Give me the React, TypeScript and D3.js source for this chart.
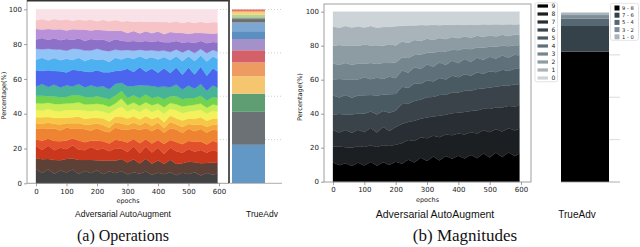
import React, { useEffect, useRef } from 'react';
import * as d3 from 'd3';

// sampled epochs
const epochs = [0, 20, 40, 60, 80, 100, 120, 140, 160, 180, 200, 220, 240, 260, 280, 300,
  320, 340, 360, 380, 400, 420, 440, 460, 480, 500, 520, 540, 560, 580, 595];

const pctTicks = [0, 20, 40, 60, 80, 100];
const epochTicks = [0, 100, 200, 300, 400, 500, 600];
const gridLevels = [25, 50, 75, 100];

// (a) operations, bottom to top
const opColors = ['#424242', '#5e4136', '#c9381c', '#e2502c', '#ee8332', '#f4a63c', '#f8c646',
  '#f4f25c', '#c9ee55', '#72d44e', '#47b497', '#4b65ef', '#4cb0f1', '#93c4f7', '#8d70c7',
  '#b891d8', '#f6c3c7', '#f9e2e7'];

const opDarkGray = [8.2, 6.0, 7.9, 5.6, 7.4, 6.3, 8.0, 5.5, 7.1, 5.9, 7.6, 5.2, 6.8, 6.0, 7.3, 4.9, 6.5, 5.3, 6.9, 4.8, 6.2, 5.0, 6.4, 4.6, 5.9, 5.1, 6.3, 4.5, 5.8, 4.9, 5.6];
const opBrown = [6.2, 8.1, 6.0, 8.0, 5.9, 7.8, 6.4, 8.2, 6.3, 7.7, 5.8, 7.9, 6.1, 7.5, 7.0, 6.6, 7.6, 5.7, 7.4, 6.0, 7.2, 5.6, 7.1, 6.4, 5.5, 6.9, 5.7, 7.0, 5.6, 6.8, 6.0];
const opRed = [7.0, 5.4, 7.6, 5.7, 7.3, 5.5, 7.8, 6.0, 5.6, 7.5, 6.1, 7.2, 5.3, 7.4, 6.2, 5.8, 7.7, 5.6, 7.1, 6.3, 7.5, 5.5, 6.9, 7.4, 5.9, 7.2, 6.0, 7.6, 5.8, 7.1, 6.4];
const opOrangeRed = [3.8, 5.3, 4.0, 5.5, 3.7, 5.1, 3.9, 5.4, 4.6, 3.6, 5.2, 4.1, 4.4, 5.0, 4.6, 5.2, 4.3, 5.5, 4.2, 5.0, 4.6, 5.4, 4.5, 5.3, 4.8, 4.5, 5.6, 4.9, 4.6, 5.3, 5.2];
const opOrange = [6.0, 7.4, 5.7, 7.2, 6.2, 7.6, 5.5, 7.0, 7.5, 5.8, 7.3, 6.0, 6.3, 7.2, 6.6, 7.0, 6.1, 7.4, 6.5, 6.8, 7.1, 6.2, 6.7, 7.2, 6.4, 6.9, 6.0, 7.1, 6.6, 6.3, 6.8];
const opLightOrange = [3.3, 2.5, 3.6, 2.7, 3.5, 2.4, 3.4, 3.0, 2.6, 3.7, 2.8, 3.5, 2.5, 3.3, 3.6, 2.7, 3.4, 2.6, 3.5, 2.8, 3.2, 2.5, 3.6, 2.9, 3.3, 2.6, 3.5, 2.8, 3.4, 2.7, 3.1];
const opAmber = [3.4, 3.9, 3.1, 3.6, 3.8, 3.2, 3.5, 4.0, 3.3, 3.7, 3.2, 3.9, 3.6, 3.3, 4.0, 3.5, 3.8, 3.2, 3.6, 3.9, 3.4, 3.3, 3.8, 3.5, 3.7, 3.1, 3.6, 3.9, 3.4, 3.5, 3.6];
const opYellow = [4.3, 3.8, 4.6, 4.1, 3.7, 4.5, 4.2, 3.9, 4.7, 4.0, 4.4, 3.8, 4.5, 4.1, 5.8, 3.9, 4.3, 4.0, 4.6, 3.7, 4.2, 4.4, 3.9, 4.5, 4.1, 3.8, 4.4, 4.2, 3.9, 4.3, 4.1];
const opLime = [3.8, 4.2, 3.6, 4.0, 4.3, 3.7, 3.9, 4.4, 3.6, 4.1, 3.8, 4.2, 3.9, 3.7, 4.9, 3.5, 3.8, 3.6, 3.4, 3.9, 3.5, 3.7, 3.3, 3.6, 3.8, 3.4, 3.5, 3.7, 3.3, 3.6, 3.5];
const opGreen = [4.2, 4.5, 3.8, 4.4, 4.0, 3.7, 4.6, 4.1, 4.3, 3.8, 4.5, 4.0, 4.2, 4.7, 4.4, 3.9, 4.3, 4.1, 4.6, 3.9, 4.2, 4.4, 3.8, 4.5, 4.1, 4.3, 3.9, 4.4, 4.0, 4.2, 4.3];
const opTeal = [5.4, 6.9, 5.2, 7.0, 5.6, 6.8, 5.1, 6.6, 5.5, 7.1, 5.3, 6.7, 5.7, 6.9, 4.8, 6.6, 5.4, 7.2, 5.2, 6.8, 5.6, 7.0, 5.3, 6.7, 5.5, 6.9, 5.2, 6.8, 5.6, 6.6, 5.9];
const opBlue = [9.3, 7.6, 9.6, 7.9, 9.4, 7.4, 9.8, 8.0, 9.2, 7.7, 9.7, 8.1, 9.5, 7.8, 7.2, 9.6, 8.2, 9.9, 8.0, 9.7, 8.3, 10.0, 8.1, 9.8, 8.4, 10.1, 8.2, 9.9, 8.5, 9.7, 9.0];
const opSkyBlue = [6.1, 7.8, 5.8, 7.6, 6.3, 7.9, 5.7, 7.4, 6.0, 7.7, 6.2, 7.5, 5.9, 7.8, 6.6, 6.4, 7.7, 6.1, 7.6, 6.3, 7.9, 6.2, 7.5, 6.5, 7.8, 6.3, 7.6, 6.4, 7.9, 6.6, 7.2];
const opPaleBlue = [6.3, 4.9, 6.5, 5.0, 6.2, 4.7, 6.6, 5.1, 6.0, 4.8, 6.4, 5.2, 6.1, 4.9, 5.3, 4.0, 4.8, 3.6, 4.7, 3.8, 4.9, 3.5, 4.6, 3.9, 4.8, 3.6, 4.5, 3.8, 4.7, 3.7, 4.2];
const opPurple = [5.2, 6.6, 5.0, 6.5, 5.4, 6.8, 5.1, 6.3, 5.5, 6.7, 5.0, 6.4, 5.3, 6.2, 5.7, 4.6, 5.8, 4.4, 5.6, 4.7, 5.9, 4.5, 5.7, 4.8, 5.5, 4.4, 5.8, 4.6, 5.6, 4.5, 5.2];
const opLightPurple = [6.1, 5.0, 6.3, 5.2, 6.4, 4.9, 6.2, 5.1, 6.5, 5.0, 6.0, 5.3, 6.3, 5.1, 5.9, 4.7, 5.8, 4.6, 5.7, 4.8, 5.6, 4.5, 5.8, 4.7, 5.5, 4.6, 5.7, 4.5, 5.6, 4.7, 5.2];
const opPink = [5.0, 6.2, 4.8, 6.1, 5.1, 6.4, 4.9, 6.0, 5.2, 6.3, 5.0, 6.1, 5.3, 6.4, 5.4, 6.6, 5.5, 6.7, 5.4, 6.5, 5.6, 6.8, 5.5, 6.6, 5.7, 6.7, 5.6, 6.5, 5.8, 6.6, 6.1];
const opPalePink = [6.3, 5.6, 6.5, 5.7, 6.4, 5.8, 6.7, 5.9, 6.5, 6.0, 6.9, 6.1, 6.8, 6.3, 7.2, 6.5, 7.3, 6.6, 7.4, 6.7, 7.5, 6.8, 7.6, 6.9, 7.7, 7.0, 7.8, 7.1, 7.7, 7.2, 7.5];

const opSeries = [opDarkGray, opBrown, opRed, opOrangeRed, opOrange, opLightOrange, opAmber,
  opYellow, opLime, opGreen, opTeal, opBlue, opSkyBlue, opPaleBlue, opPurple, opLightPurple,
  opPink, opPalePink];

// TrueAdv operations bar, bottom to top
const trueOpValues = [22, 19, 10.5, 10, 8, 7, 6.5, 4.5, 5, 2, 1, 1.5, 1.5, 0.7, 0.8];
const trueOpColors = ['#6198c6', '#6c7176', '#5e9e72', '#f5c66e', '#ee9b61', '#d4606a', '#a491c9',
  '#5b8fc0', '#7ba7d2', '#6e6e6e', '#8ba59a', '#b7d48b', '#f4d27a', '#f2a86e', '#e06868'];

// (b) magnitudes, bottom (9) to top (0)
const magLabels = ['9', '8', '7', '6', '5', '4', '3', '2', '1', '0'];
const magColors = ['#000000', '#1b1f22', '#282e33', '#394349', '#4a5a63', '#5f707a', '#75868f',
  '#8d9ba3', '#a9b4ba', '#ccd4d7'];

const mag9 = [11.4, 9.6, 10.9, 9.2, 11.2, 9.8, 11.6, 9.5, 11.3, 10.1, 11.8, 11.0, 12.6, 11.7, 13.9, 12.6, 14.5, 12.9, 14.8, 13.8, 14.9, 14.0, 15.3, 14.2, 16.3, 14.6, 16.8, 15.0, 17.0, 15.4, 16.6];
const mag8 = [9.2, 11.1, 9.5, 10.6, 9.8, 11.3, 9.9, 11.2, 10.0, 11.4, 10.1, 12.6, 11.5, 13.0, 11.9, 13.8, 12.0, 14.0, 12.4, 14.3, 12.8, 14.7, 13.1, 15.0, 13.4, 15.3, 13.6, 15.5, 14.0, 15.6, 14.8];
const mag7 = [9.8, 8.2, 10.1, 8.7, 9.9, 8.9, 10.3, 8.6, 10.6, 9.0, 10.4, 11.9, 10.3, 12.3, 10.8, 12.6, 11.2, 13.0, 11.4, 13.3, 11.9, 13.6, 12.1, 13.8, 12.4, 14.1, 12.7, 14.5, 13.0, 14.6, 13.8];
const mag6 = [9.4, 10.9, 9.2, 10.8, 9.6, 11.1, 9.5, 10.7, 9.3, 11.0, 9.7, 12.2, 10.6, 12.1, 11.2, 12.3, 11.3, 12.6, 11.5, 12.5, 11.7, 12.9, 11.6, 13.1, 11.6, 13.0, 12.0, 13.2, 11.9, 13.3, 12.5];
const mag5 = [11.2, 9.7, 11.5, 9.8, 10.6, 11.3, 9.7, 11.4, 9.6, 11.1, 9.8, 10.6, 9.0, 10.7, 9.1, 10.4, 8.9, 10.3, 8.8, 10.1, 8.7, 10.0, 8.6, 9.9, 8.5, 9.8, 8.4, 9.7, 8.4, 9.6, 9.0];
const mag4 = [9.4, 10.8, 9.2, 10.7, 9.5, 10.9, 9.3, 10.6, 9.1, 10.5, 9.3, 10.1, 8.8, 9.7, 8.7, 9.5, 8.5, 9.3, 8.3, 9.1, 8.1, 9.2, 8.0, 8.9, 7.9, 8.8, 7.8, 8.6, 7.7, 8.5, 8.1];
const mag3 = [9.5, 8.3, 9.7, 8.4, 9.6, 8.2, 9.5, 8.1, 9.4, 8.3, 9.3, 7.9, 8.6, 7.5, 8.3, 7.1, 8.1, 6.8, 7.8, 6.6, 7.5, 6.4, 7.3, 6.2, 7.1, 6.0, 6.9, 5.9, 6.7, 5.8, 6.0];
const mag2 = [10.3, 11.7, 10.1, 11.5, 10.4, 11.6, 10.3, 11.2, 10.0, 11.3, 10.1, 9.9, 8.7, 9.1, 8.0, 8.5, 7.5, 8.1, 7.1, 7.7, 6.8, 7.4, 6.5, 7.1, 6.2, 6.9, 6.0, 6.7, 5.8, 6.4, 6.0];
const mag1 = [11.5, 10.2, 11.8, 10.4, 11.6, 10.3, 11.5, 10.5, 11.0, 10.4, 11.4, 9.6, 10.1, 8.8, 9.3, 8.2, 8.7, 7.7, 8.3, 7.2, 7.9, 6.9, 7.6, 6.7, 7.3, 6.5, 7.1, 6.3, 6.9, 6.2, 6.4];
const mag0 = [8.8, 9.4, 8.5, 9.3, 8.7, 9.6, 8.4, 9.5, 8.9, 9.2, 8.6, 8.7, 7.9, 8.4, 7.7, 8.3, 7.6, 8.2, 7.5, 8.1, 7.4, 8.0, 7.4, 7.9, 7.3, 7.8, 7.3, 7.7, 7.3, 7.7, 7.5];

const magSeries = [mag9, mag8, mag7, mag6, mag5, mag4, mag3, mag2, mag1, mag0];

// TrueAdv magnitudes bar, bottom to top
const trueMagLabels = ['9 - 8', '7 - 6', '5 - 4', '3 - 2', '1 - 0'];
const trueMagValues = [77, 15.5, 4, 2, 1.5];
const trueMagColors = ['#000000', '#36424a', '#566874', '#7e8e98', '#a9b5bc'];

const tickFont = 'DejaVu Sans, sans-serif';
const titleFont = 'Liberation Sans, Arial, sans-serif';
const captionFont = 'Liberation Serif, Times New Roman, serif';

const stackOf = (series: number[][]) => {
  const keys = series.map((_, k) => 'k' + k);
  const rows = epochs.map((e, i) => {
    const r: any = { epoch: e };
    series.forEach((s, k) => { r['k' + k] = s[i]; });
    return r;
  });
  return d3.stack().keys(keys).offset(d3.stackOffsetExpand)(rows);
};

const barStackOf = (values: number[]) => {
  const keys = values.map((_, k) => 'k' + k);
  const row: any = {};
  values.forEach((v, k) => { row['k' + k] = v; });
  return d3.stack().keys(keys)([row]);
};

const App = () => {
  const ref = useRef<SVGSVGElement>(null);

  useEffect(() => {
    const svg = d3.select(ref.current);
    svg.selectAll('*').remove();

    const drawAreaPanel = (series: number[][], colors: string[], x: any, y: any,
      frame: { l: number, r: number, t: number, b: number }, labelX: number, dark: boolean) => {
      const g = svg.append('g');
      const layers = stackOf(series);
      const area = d3.area<any>()
        .x(d => x(d.data.epoch))
        .y0(d => y(d[0] * 100))
        .y1(d => y(d[1] * 100));
      g.selectAll('path.layer')
        .data(layers)
        .enter()
        .append('path')
        .attr('class', 'layer')
        .attr('d', area)
        .attr('fill', (d, i) => colors[i])
        .attr('stroke', (d, i) => colors[i])
        .attr('stroke-width', 0.3);

      // spines
      if (dark) {
        g.append('line').attr('x1', frame.l).attr('x2', frame.l).attr('y1', frame.t).attr('y2', frame.b)
          .attr('stroke', '#888').attr('stroke-width', 0.8);
        g.append('line').attr('x1', frame.l).attr('x2', frame.r).attr('y1', frame.b).attr('y2', frame.b)
          .attr('stroke', '#888').attr('stroke-width', 0.8);
        g.append('line').attr('x1', frame.l).attr('x2', frame.r + 1).attr('y1', frame.t + 0.7).attr('y2', frame.t + 0.7)
          .attr('stroke', '#333').attr('stroke-width', 1.4);
        g.append('line').attr('x1', frame.r).attr('x2', frame.r).attr('y1', frame.t).attr('y2', frame.b)
          .attr('stroke', '#444').attr('stroke-width', 1.8);
      } else {
        g.append('rect').attr('x', frame.l).attr('y', frame.t)
          .attr('width', frame.r - frame.l).attr('height', frame.b - frame.t)
          .attr('fill', 'none').attr('stroke', '#888').attr('stroke-width', 0.8);
      }

      const yAxis = g.append('g')
        .attr('transform', `translate(${frame.l},0)`)
        .call(d3.axisLeft(y).tickValues(pctTicks).tickSize(3).tickPadding(2));
      const xAxis = g.append('g')
        .attr('transform', `translate(0,${frame.b})`)
        .call(d3.axisBottom(x).tickValues(epochTicks).tickSize(3).tickPadding(2.5));
      [yAxis, xAxis].forEach(a => {
        a.select('.domain').remove();
        a.selectAll('line').attr('stroke', '#777').attr('stroke-width', 0.7);
        a.selectAll('text').style('font-family', tickFont).style('font-size', '7px').attr('fill', '#222');
      });

      g.append('text')
        .attr('x', (frame.l + frame.r) / 2)
        .attr('y', frame.b + 19.5)
        .attr('text-anchor', 'middle')
        .style('font-family', tickFont)
        .style('font-size', '6.5px')
        .attr('fill', '#222')
        .text('epochs');

      g.append('text')
        .attr('transform', `translate(${labelX},${(frame.t + frame.b) / 2 + 4}) rotate(-90)`)
        .attr('text-anchor', 'middle')
        .style('font-family', tickFont)
        .style('font-size', '6.5px')
        .attr('fill', '#222')
        .text('Percentage(%)');
    };

    // (a) operations
    const xA = d3.scaleLinear().domain([0, 600]).range([36, 219]);
    const yA = d3.scaleLinear().domain([0, 100]).range([183.3, 9.3]);
    const yBarA = d3.scaleLinear().domain([0, 100]).range([183, 9.5]);

    svg.selectAll('line.gridA')
      .data(gridLevels)
      .enter()
      .append('line')
      .attr('class', 'gridA')
      .attr('x1', 217).attr('x2', 282)
      .attr('y1', d => yBarA(d)).attr('y2', d => yBarA(d))
      .attr('stroke', '#bbb').attr('stroke-width', 0.7).attr('stroke-dasharray', '1,2');

    drawAreaPanel(opSeries, opColors, xA, yA, { l: 27, r: 229, t: 0, b: 183.3 }, 6, true);

    const barA = barStackOf(trueOpValues);
    svg.selectAll('rect.barA')
      .data(barA)
      .enter()
      .append('rect')
      .attr('class', 'barA')
      .attr('x', 232).attr('width', 33)
      .attr('y', d => yBarA(d[0][1]))
      .attr('height', d => yBarA(d[0][0]) - yBarA(d[0][1]))
      .attr('fill', (d, i) => trueOpColors[i]);
    svg.append('line').attr('x1', 230).attr('x2', 282).attr('y1', 183.3).attr('y2', 183.3)
      .attr('stroke', '#999').attr('stroke-width', 0.8);

    // (b) magnitudes
    const xB = d3.scaleLinear().domain([0, 600]).range([333, 521]);
    const yB = d3.scaleLinear().domain([0, 100]).range([181.7, 11.7]);
    drawAreaPanel(magSeries, magColors, xB, yB, { l: 324, r: 531, t: 4, b: 182 }, 302, false);

    const legM = svg.append('g');
    legM.append('rect').attr('x', 535).attr('y', 2.7).attr('width', 22.5).attr('height', 79)
      .attr('rx', 1.5).attr('fill', '#fff').attr('stroke', '#d0d0d0').attr('stroke-width', 0.6);
    const legMItems = legM.selectAll('g.item')
      .data(magLabels)
      .enter()
      .append('g')
      .attr('class', 'item')
      .attr('transform', (d, i) => `translate(0,${6 + 8 * i})`);
    legMItems.append('rect').attr('x', 537.5).attr('y', -1.6).attr('width', 10.5).attr('height', 3.2)
      .attr('fill', (d, i) => magColors[i]);
    legMItems.append('text').attr('x', 551.5).attr('y', 2.1)
      .style('font-family', tickFont).style('font-size', '6px').attr('fill', '#222')
      .text(d => d);

    const yBarB = d3.scaleLinear().domain([0, 100]).range([182, 12.5]);
    svg.selectAll('line.gridB')
      .data(gridLevels.slice(0, 3))
      .enter()
      .append('line')
      .attr('class', 'gridB')
      .attr('x1', 561).attr('x2', 620)
      .attr('y1', d => yBarB(d)).attr('y2', d => yBarB(d))
      .attr('stroke', '#ccc').attr('stroke-width', 0.7);

    const barB = barStackOf(trueMagValues);
    svg.selectAll('rect.barB')
      .data(barB)
      .enter()
      .append('rect')
      .attr('class', 'barB')
      .attr('x', 561).attr('width', 48)
      .attr('y', d => yBarB(d[0][1]))
      .attr('height', d => yBarB(d[0][0]) - yBarB(d[0][1]))
      .attr('fill', (d, i) => trueMagColors[i]);
    svg.append('line').attr('x1', 561).attr('x2', 620).attr('y1', 182).attr('y2', 182)
      .attr('stroke', '#999').attr('stroke-width', 0.8);

    const legT = svg.append('g');
    legT.append('rect').attr('x', 610.5).attr('y', 3.3).attr('width', 28).attr('height', 37)
      .attr('rx', 2).attr('fill', '#fff').attr('stroke', '#d0d0d0').attr('stroke-width', 0.6);
    const legTItems = legT.selectAll('g.item')
      .data(trueMagLabels)
      .enter()
      .append('g')
      .attr('class', 'item')
      .attr('transform', (d, i) => `translate(0,${8 + 7.2 * i})`);
    legTItems.append('rect').attr('x', 614.5).attr('y', -2.5).attr('width', 5).attr('height', 5)
      .attr('fill', (d, i) => trueMagColors[i]);
    legTItems.append('text').attr('x', 622).attr('y', 1.9)
      .style('font-family', tickFont).style('font-size', '5.2px').attr('fill', '#222')
      .text(d => d);

    // subplot titles and captions
    const texts = [
      { t: 'Adversarial AutoAugment', x: 123, y: 217, s: 8.5, f: titleFont },
      { t: 'TrueAdv', x: 262, y: 217, s: 8.5, f: titleFont },
      { t: 'Adversarial AutoAugment', x: 435, y: 218, s: 10.5, f: titleFont },
      { t: 'TrueAdv', x: 577, y: 218, s: 10, f: titleFont },
      { t: '(a) Operations', x: 123, y: 241, s: 16, f: captionFont },
      { t: '(b) Magnitudes', x: 465, y: 241, s: 17, f: captionFont },
    ];
    svg.selectAll('text.title')
      .data(texts)
      .enter()
      .append('text')
      .attr('class', 'title')
      .attr('x', d => d.x)
      .attr('y', d => d.y)
      .attr('text-anchor', 'middle')
      .style('font-family', d => d.f)
      .style('font-size', d => d.s + 'px')
      .attr('fill', '#111')
      .text(d => d.t);
  }, []);

  return (
    <div style={{ position: 'absolute', left: 0, top: 0 }}>
      <svg ref={ref} width={640} height={247} style={{ display: 'block', background: '#fff' }} />
    </div>
  );
};

export default App;
